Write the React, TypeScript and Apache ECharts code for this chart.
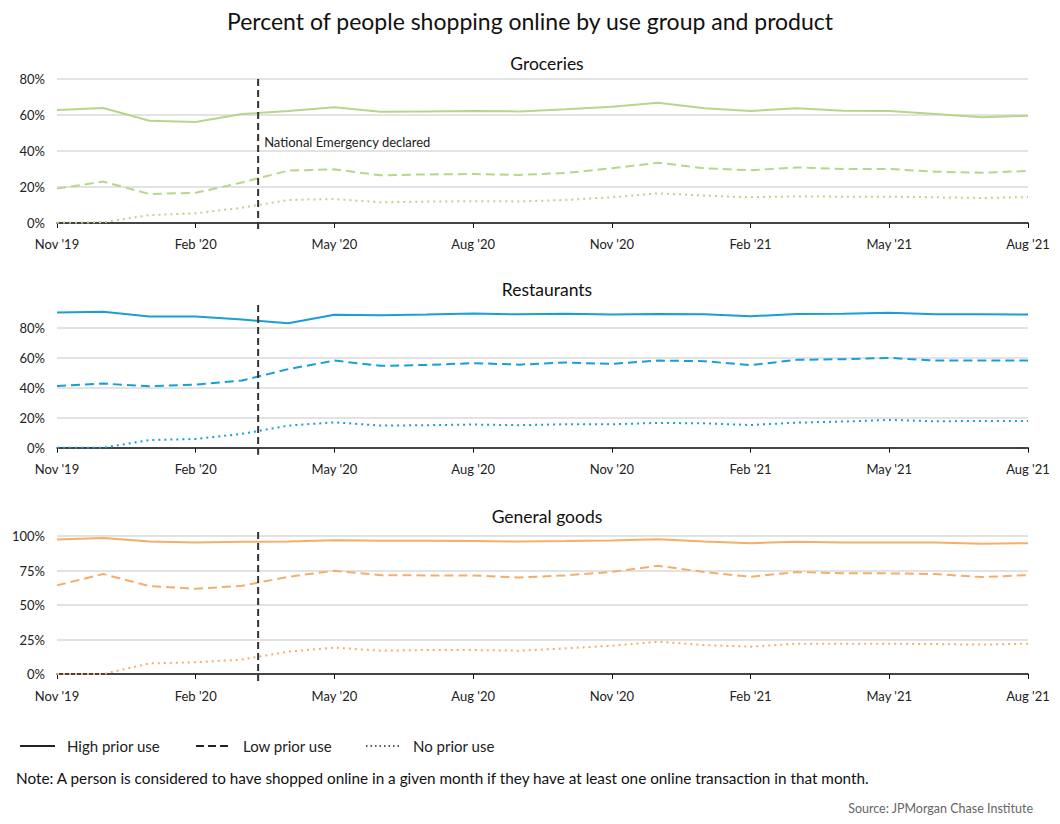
import { useEffect, useRef } from "react";
import * as echarts from "echarts";

const months = [
  "Nov '19", "Dec '19", "Jan '20", "Feb '20", "Mar '20", "Apr '20", "May '20", "Jun '20",
  "Jul '20", "Aug '20", "Sep '20", "Oct '20", "Nov '20", "Dec '20", "Jan '21", "Feb '21",
  "Mar '21", "Apr '21", "May '21", "Jun '21", "Jul '21", "Aug '21",
];

const groceriesHigh = [62.8, 63.9, 56.8, 56.1, 60.5, 62.2, 64.3, 61.8, 62.0, 62.2, 62.0, 63.2, 64.6, 66.8, 63.7, 62.2, 63.7, 62.4, 62.2, 60.5, 58.7, 59.6];
const groceriesLow = [19.1, 23.0, 16.1, 16.8, 22.5, 29.1, 29.8, 26.5, 27.0, 27.2, 26.7, 27.8, 30.4, 33.5, 30.4, 29.3, 30.9, 30.0, 30.0, 28.5, 27.9, 28.9];
const groceriesNo = [0.2, 0.4, 4.4, 5.4, 8.5, 12.8, 13.3, 11.5, 11.9, 12.1, 12.0, 12.8, 14.3, 16.5, 15.2, 14.3, 14.8, 14.6, 14.6, 14.3, 13.9, 14.4];

const restaurantsHigh = [90.0, 90.5, 87.3, 87.3, 85.3, 82.9, 88.5, 88.2, 88.7, 89.3, 88.8, 89.2, 88.6, 89.0, 88.8, 87.5, 89.0, 89.2, 89.8, 88.9, 88.8, 88.7];
const restaurantsLow = [41.1, 42.7, 40.9, 42.0, 44.7, 52.3, 58.0, 54.5, 55.1, 56.3, 55.3, 56.7, 55.8, 58.0, 57.6, 54.9, 58.5, 58.9, 59.8, 58.0, 58.0, 58.0];
const restaurantsNo = [0.0, 0.0, 5.1, 5.8, 9.2, 14.7, 16.9, 14.7, 15.0, 15.4, 15.0, 15.6, 15.6, 16.5, 16.2, 15.1, 16.7, 17.4, 18.5, 17.6, 17.8, 17.8];

const generalHigh = [97.6, 98.6, 96.1, 95.4, 95.9, 96.1, 97.1, 96.6, 96.6, 96.4, 96.1, 96.4, 96.9, 97.8, 96.1, 94.9, 95.9, 95.4, 95.4, 95.4, 94.4, 94.9];
const generalLow = [64.3, 72.5, 63.8, 61.8, 64.0, 70.5, 74.9, 71.7, 71.5, 71.5, 70.0, 71.5, 74.1, 78.5, 74.0, 70.5, 74.0, 73.0, 73.0, 72.5, 70.3, 71.7];
const generalNo = [0.0, 0.0, 7.7, 8.5, 10.5, 16.2, 19.1, 16.9, 17.4, 17.4, 16.9, 18.6, 20.5, 23.4, 21.0, 19.8, 22.0, 22.0, 22.0, 21.7, 21.3, 22.0];

const panelTitles = ["Groceries", "Restaurants", "General goods"];
const legendLabels = ["High prior use", "Low prior use", "No prior use"];
const emergencyMonth = 4.35;
const emergencyLabel = "National Emergency declared";
const mainTitle = "Percent of people shopping online by use group and product";
const noteText = "Note: A person is considered to have shopped online in a given month if they have at least one online transaction in that month.";
const sourceText = "Source: JPMorgan Chase Institute";

const FONT = "Lato, 'Noto Sans', sans-serif";
const colors = ["#b6d68b", "#179fd7", "#f4ae6a"];
const panelData = [
  [groceriesHigh, groceriesLow, groceriesNo],
  [restaurantsHigh, restaurantsLow, restaurantsNo],
  [generalHigh, generalLow, generalNo],
];
const gridTops = [79, 305, 532];
const gridHeights = [144, 142.7, 142];
const yMax = [80, 95, 103];
const yInterval = [20, 20, 25];
const axisOffsets = [6, 7, 7];
const lineTypes: any[] = ["solid", [9, 5], [2, 4]];

export default function App() {
  const ref = useRef<HTMLDivElement>(null);
  useEffect(() => {
    document.body.style.margin = "0";
    if (!ref.current) return;
    const chart = echarts.init(ref.current, undefined, { renderer: "svg" });

    const grids = gridTops.map((t, i) => ({ left: 57, right: 32, top: t, height: gridHeights[i] }));
    const xAxes = gridTops.map((_, i) => ({
      type: "value",
      gridIndex: i,
      min: 0,
      max: months.length - 1,
      interval: 3,
      offset: axisOffsets[i],
      axisLine: { show: true, lineStyle: { color: "#111", width: 1.5 } },
      axisTick: { show: true, length: 5, lineStyle: { color: "#111", width: 1 } },
      splitLine: { show: false },
      axisLabel: {
        formatter: (v: number) => months[Math.round(v)] ?? "",
        fontFamily: FONT,
        fontSize: 13,
        color: "#222",
        margin: 8,
      },
    }));
    const yAxes = gridTops.map((_, i) => ({
      type: "value",
      gridIndex: i,
      min: 0,
      max: yMax[i],
      interval: yInterval[i],
      axisLine: { show: false },
      axisTick: { show: false },
      axisLabel: {
        formatter: "{value}%",
        fontFamily: FONT,
        fontSize: 13,
        color: "#222",
        margin: 12,
        showMaxLabel: i === 0,
      },
      splitLine: { show: true, showMaxLine: i === 0, lineStyle: { color: "#e3e3e3", width: 2 } },
    }));
    const series: any[] = [];
    panelData.forEach((group, p) => {
      group.forEach((arr, k) => {
        series.push({
          type: "line",
          name: `${panelTitles[p]} ${legendLabels[k]}`,
          xAxisIndex: p,
          yAxisIndex: p,
          data: arr.map((v, i) => [i, v]),
          showSymbol: false,
          symbol: "none",
          lineStyle: { color: colors[p], width: 2, type: lineTypes[k] },
          z: 3 - k,
        });
      });
    });

    const titles: any[] = [
      {
        text: mainTitle,
        left: "center",
        top: 4,
        textStyle: { fontFamily: FONT, fontSize: 23, fontWeight: "normal", color: "#111" },
      },
      ...panelTitles.map((t, i) => ({
        text: t,
        left: 542,
        textAlign: "center",
        top: gridTops[i] - 30,
        textStyle: { fontFamily: FONT, fontSize: 17.5, fontWeight: "normal", color: "#111" },
      })),
    ];

    chart.setOption({
      animation: false,
      backgroundColor: "#fff",
      title: titles,
      grid: grids,
      xAxis: xAxes,
      yAxis: yAxes,
      series,
    });

    const graphics: any[] = [];
    gridTops.forEach((_, i) => {
      const x = chart.convertToPixel({ xAxisIndex: i }, emergencyMonth) as number;
      const yTop = chart.convertToPixel({ yAxisIndex: i }, yMax[i]) as number;
      const yBottom = (chart.convertToPixel({ yAxisIndex: i }, 0) as number) + axisOffsets[i];
      graphics.push({
        type: "line",
        shape: { x1: x, y1: yTop, x2: x, y2: yBottom },
        style: { stroke: "#333", lineWidth: 2, lineDash: [7, 4] },
        z: 10,
      });
      if (i === 0) {
        const yText = chart.convertToPixel({ yAxisIndex: 0 }, 45) as number;
        graphics.push({
          type: "text",
          x: x + 6,
          y: yText,
          style: {
            text: emergencyLabel,
            font: `13px ${FONT}`,
            fill: "#222",
            textVerticalAlign: "middle",
          },
          z: 10,
        });
      }
    });

    const legendX = [20, 196, 366];
    const legendDash: any[] = [null, [8, 4], [1.5, 3]];
    legendLabels.forEach((label, k) => {
      graphics.push({
        type: "line",
        shape: { x1: legendX[k], y1: 746, x2: legendX[k] + 35, y2: 746 },
        style: { stroke: "#222", lineWidth: k === 2 ? 1.5 : 2, lineDash: legendDash[k] },
      });
      graphics.push({
        type: "text",
        x: legendX[k] + 47,
        y: 746,
        style: { text: label, font: `15px ${FONT}`, fill: "#222", textVerticalAlign: "middle" },
      });
    });
    graphics.push({
      type: "text",
      x: 16,
      y: 778,
      style: { text: noteText, font: `15.3px ${FONT}`, fill: "#111", textVerticalAlign: "middle" },
    });
    graphics.push({
      type: "text",
      x: 1033,
      y: 808,
      style: { text: sourceText, font: `12.5px ${FONT}`, fill: "#666", textAlign: "right", textVerticalAlign: "middle" },
    });

    chart.setOption({ graphic: graphics });

    return () => chart.dispose();
  }, []);
  return <div ref={ref} style={{ width: 1060, height: 824 }} />;
}
